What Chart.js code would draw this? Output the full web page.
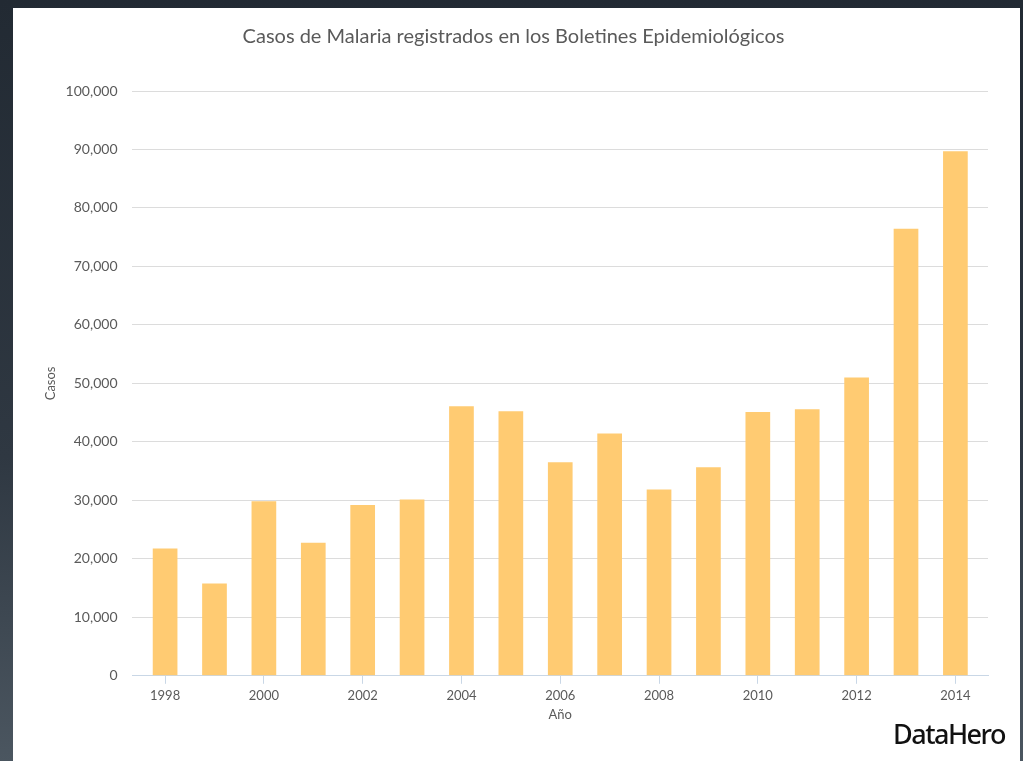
<!DOCTYPE html>
<html>
<head>
<meta charset="utf-8">
<script src="https://cdn.jsdelivr.net/npm/chart.js@4"></script>
<style>
  html, body { margin: 0; padding: 0; }
  body {
    width: 1023px; height: 761px; overflow: hidden;
    background: linear-gradient(180deg, #222a33 0%, #2f3842 60%, #4b5660 100%);
    position: relative;
    font-family: Lato, "Open Sans", sans-serif;
  }
  #card {
    position: absolute; left: 13px; top: 8px; width: 1007px; height: 753px;
    background: #fff;
  }
  #logo {
    position: absolute; right: 15px; bottom: 9px;
    font-family: "Noto Sans", sans-serif; font-size: 27px; font-weight: 500;
    letter-spacing: -1.5px; color: #111;
  }
</style>
</head>
<body>
<div id="card">
  <canvas id="chart" width="1007" height="753"></canvas>
  <div id="logo">DataHero</div>
</div>
<script>
// años y casos registrados
const years = [1998, 1999, 2000, 2001, 2002, 2003, 2004, 2005, 2006,
               2007, 2008, 2009, 2010, 2011, 2012, 2013, 2014];
const casos = [21750, 15800, 29850, 22750, 29200, 30150, 46100, 45250, 36500,
               41450, 31850, 35650, 45100, 45600, 51000, 76450, 89700];

const barColor = "#ffcb72";
const textColor = "#5a5a5a";

new Chart(document.getElementById("chart"), {
    type: "bar",
    data: {
        datasets: [{
            label: "Casos",
            data: years.map((y, i) => ({ x: y, y: casos[i] })),
            backgroundColor: barColor,
            borderWidth: 0,
            barPercentage: 0.5,
            categoryPercentage: 1
        }]
    },
    options: {
        responsive: false,
        animation: false,
        layout: { padding: { left: 26, right: 32, top: 15, bottom: 34 } },
        plugins: {
            legend: { display: false },
            tooltip: { enabled: false },
            title: {
                display: true,
                text: "Casos de Malaria registrados en los Boletines Epidemiológicos",
                color: textColor,
                font: { family: "Lato", size: 20, weight: "normal" },
                padding: { top: 2, bottom: 42 }
            }
        },
        scales: {
            x: {
                type: "linear",
                offset: false,
                min: 1997.34,
                max: 2014.66,
                grid: {
                    offset: false,
                    drawOnChartArea: false,
                    tickLength: 8,
                    color: "#c9d7e6"
                },
                border: { color: "#c9d7e6", width: 1 },
                ticks: {
                    stepSize: 2,
                    includeBounds: false,
                    autoSkip: false,
                    maxRotation: 0,
                    color: textColor,
                    font: { family: "Lato", size: 13 },
                    padding: 4,
                    callback: v => String(v)
                },
                title: {
                    display: true,
                    text: "Año",
                    color: textColor,
                    font: { family: "Lato", size: 13 },
                    padding: { top: 0 }
                }
            },
            y: {
                min: 0,
                max: 100000,
                grid: { color: "#dcdcdc", drawTicks: false },
                border: { display: false },
                ticks: {
                    stepSize: 10000,
                    color: textColor,
                    font: { family: "Lato", size: 14 },
                    padding: 15,
                    callback: v => v.toLocaleString("en-US")
                },
                title: {
                    display: true,
                    text: "Casos",
                    color: textColor,
                    font: { family: "Lato", size: 13 },
                    padding: { top: 4, bottom: -8 }
                }
            }
        }
    }
});
</script>
</body>
</html>
